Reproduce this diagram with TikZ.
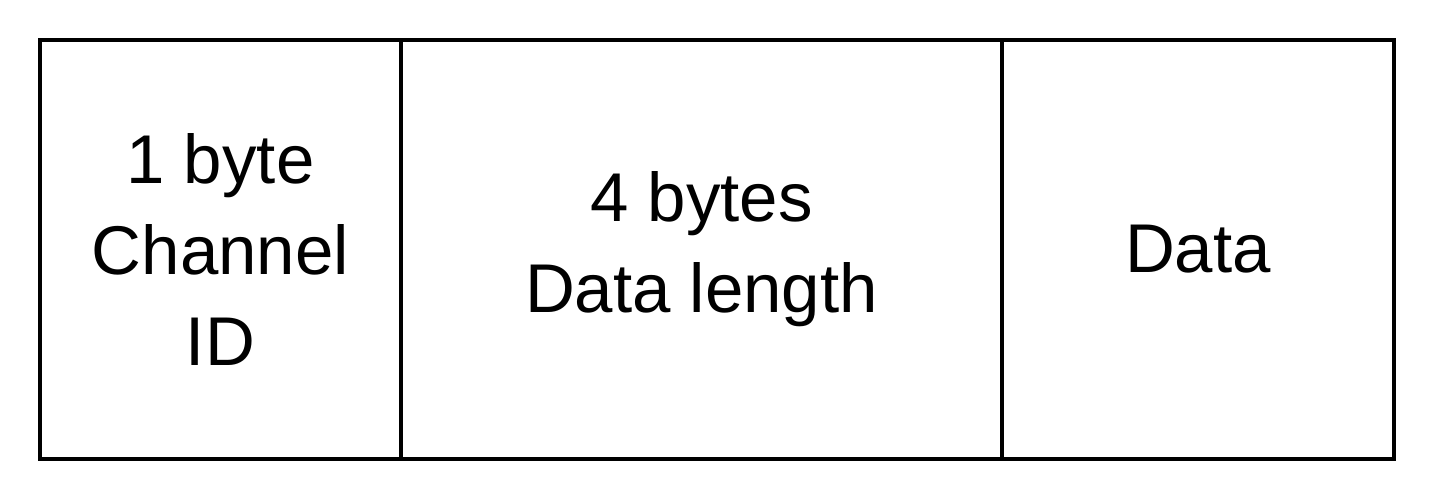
\documentclass[tikz,border=0pt]{standalone}
\usepackage{fontspec}
\setmainfont{Liberation Sans}
\begin{document}
\begin{tikzpicture}[x=1pt,y=1pt,
  field/.style={draw=black, line width=2pt, inner sep=0pt, minimum height=209.5pt,
    align=center, font=\fontsize{34.5}{45.5}\selectfont}]
\useasboundingbox (0,0) rectangle (718.5,250);
\node[field, minimum width=180.5pt] (chan) at (110.25,125.25) {1 byte\\Channel\\ID};
\node[field, minimum width=300.5pt] (len) at (350.75,125.25) {4 bytes\\Data length};
\node[field, minimum width=196pt] (data) at (599,125.25) {Data};
\end{tikzpicture}
\end{document}
